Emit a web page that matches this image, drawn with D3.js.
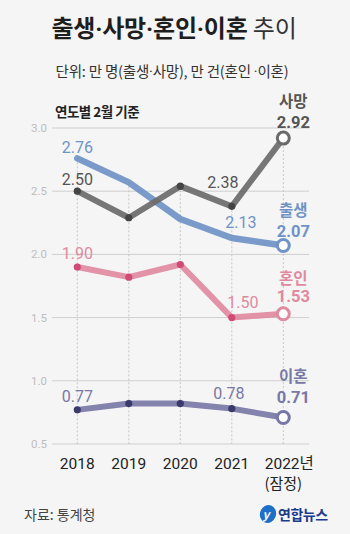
<!DOCTYPE html>
<html><head><meta charset="utf-8">
<script src="https://cdn.jsdelivr.net/npm/d3@7"></script>
<style>
html,body{margin:0;padding:0;background:#f5f5f5;}
svg{display:block;font-family:"Noto Sans CJK KR","Noto Sans",sans-serif;}
.num{font-family:Roboto,"Noto Sans",sans-serif;}
</style></head><body>
<svg id="c" width="350" height="534"></svg>
<script>
const years = ["2018","2019","2020","2021","2022"];
const birth = [2.76, 2.57, 2.28, 2.13, 2.07];
const death = [2.50, 2.29, 2.54, 2.38, 2.92];
const marriage = [1.90, 1.82, 1.92, 1.50, 1.53];
const divorce = [0.77, 0.82, 0.82, 0.78, 0.71];
const yTicks = [0.5, 1.0, 1.5, 2.0, 2.5, 3.0];
const seriesNames = ["출생","사망","혼인","이혼"];

const svg = d3.select("#c");
svg.append("rect").attr("width",350).attr("height",534).attr("fill","#f5f5f5");

const x = d3.scalePoint().domain(years).range([77.3, 283.3]);
const y = d3.scaleLinear().domain([0.5, 3.0]).range([444, 128]);

// title with narrow middots
const addMixed = (textSel, str) => {
  str.split(/(·)/).forEach(p => {
    if(!p) return;
    const ts = textSel.append("tspan").text(p);
    if(p==="·") ts.attr("font-family","Roboto,'Noto Sans',sans-serif");
  });
};
const t = svg.append("text").attr("x",174).attr("y",37).attr("text-anchor","middle")
  .attr("font-size",24).attr("fill","#1e1e1e").attr("letter-spacing","-0.2");
const tb = t.append("tspan").attr("font-weight","bold");
addMixed(tb, "출생·사망·혼인·이혼");
t.append("tspan").attr("font-weight","normal").attr("fill","#333").text(" 추이");
const st = svg.append("text").attr("x",172).attr("y",77).attr("text-anchor","middle")
  .attr("font-size",14.5).attr("fill","#333").attr("letter-spacing","-0.2");
addMixed(st, "단위: 만 명(출생·사망), 만 건(혼인 ·이혼)");
svg.append("text").attr("x",55).attr("y",117).attr("font-size",13.5).attr("font-weight","bold")
  .attr("fill","#222").attr("letter-spacing","-0.5").text("연도별 2월 기준");

// grid
const gy = svg.append("g");
gy.selectAll("line").data(yTicks).join("line")
  .attr("x1",52).attr("x2",309).attr("y1",d=>y(d)).attr("y2",d=>y(d))
  .attr("stroke","#cfcfcf").attr("stroke-width",1);
gy.selectAll("text").data(yTicks).join("text").attr("class","num")
  .attr("x",47).attr("y",d=>y(d)+4).attr("text-anchor","end")
  .attr("font-size",11.5).attr("fill","#bdbdbd").text(d=>d.toFixed(1));

const all = [birth, death, marriage, divorce];
svg.append("g").selectAll("line").data(years).join("line")
  .attr("x1",d=>x(d)).attr("x2",d=>x(d))
  .attr("y1",(d,i)=>y(d3.max(all,s=>s[i]))).attr("y2",y(0.5))
  .attr("stroke","#bbb").attr("stroke-width",0.8).attr("stroke-dasharray","2,2");

// x labels
const xl = svg.append("g");
xl.selectAll("text").data(years).join("text")
  .attr("x",d=>x(d)+(d==="2022"?6:0)).attr("y",469).attr("text-anchor","middle")
  .attr("font-size",15.5).attr("fill","#222")
  .each(function(d){
    const s = d3.select(this);
    s.append("tspan").attr("class","num").text(d);
    if(d==="2022") s.append("tspan").text("년");
  });
xl.append("text").attr("x",x("2022")).attr("y",489).attr("text-anchor","middle")
  .attr("font-size",15).attr("fill","#222").text("(잠정)");

const line = d3.line().x((d,i)=>x(years[i])).y(d=>y(d));
const cfg = [
  {data:divorce, color:"#7878a6", dot:"#3a3a6c", w:6},
  {data:marriage, color:"#e08a9f", dot:"#d04c76", w:6},
  {data:birth, color:"#6f93c6", dot:null, w:6.5},
  {data:death, color:"#6a6a6a", dot:"#444", w:6},
];
cfg.forEach(c=>{
  svg.append("path").attr("d",line(c.data)).attr("fill","none")
    .attr("stroke",c.color).attr("stroke-width",c.w).attr("stroke-linecap","round")
    .attr("stroke-linejoin","round").attr("opacity",0.92);
  if(c.dot){
    svg.append("g").selectAll("circle").data(c.data.slice(0,4)).join("circle")
      .attr("cx",(d,i)=>x(years[i])).attr("cy",d=>y(d)).attr("r",3.6).attr("fill",c.dot);
  }
  svg.append("circle").attr("cx",x("2022")).attr("cy",y(c.data[4])).attr("r",6)
    .attr("fill","#fff").attr("stroke",c.color).attr("stroke-width",3);
});

// value labels
const lbl = (i, s, dx, dy, color) => svg.append("text").attr("class","num")
  .attr("x",x(years[i])+dx).attr("y",y(s[i])+dy)
  .attr("text-anchor","middle").attr("font-size",16).attr("fill",color)
  .text(s[i].toFixed(2));
lbl(0, birth, 0, -5, "#6f93c6");
lbl(3, birth, 9, -10, "#6f93c6");
lbl(0, death, 0, -6, "#555");
lbl(3, death, -9, -18, "#555");
lbl(0, marriage, 0, -8, "#e08a9f");
lbl(3, marriage, 11, -10, "#e08a9f");
lbl(0, divorce, 0, -8, "#7878a6");
lbl(3, divorce, -3, -10, "#7878a6");

// end labels
const endL = (s, name, color, nameY, valY) => {
  const g = svg.append("g").attr("font-weight","bold").attr("fill",color).attr("text-anchor","middle");
  g.append("text").attr("x",x("2022")+10).attr("y",y(s[4])+nameY).attr("font-size",15.5).text(name);
  g.append("text").attr("class","num").attr("x",x("2022")+10).attr("y",y(s[4])+valY).attr("font-size",16.5).text(s[4].toFixed(2));
};
endL(death, seriesNames[1], "#555", -31, -10);
endL(birth, seriesNames[0], "#6f93c6", -30, -9);
endL(marriage, seriesNames[2], "#e08a9f", -30, -12);
endL(divorce, seriesNames[3], "#7878a6", -35, -14);

// source
svg.append("text").attr("x",24).attr("y",520).attr("font-size",14).attr("fill","#444").text("자료: 통계청");
// logo
const lg = svg.append("g");
lg.append("ellipse").attr("cx",268).attr("cy",514).attr("rx",8).attr("ry",9).attr("fill","#1d6fc8")
  .attr("transform","rotate(20,268,514)");
lg.append("text").attr("x",266).attr("y",519).attr("font-size",12).attr("font-weight","bold")
  .attr("fill","#fff").attr("text-anchor","middle").attr("font-style","italic").text("y");
lg.append("text").attr("x",278).attr("y",520).attr("font-size",14).attr("font-weight","bold")
  .attr("fill","#1b3c8c").attr("letter-spacing","-0.5").text("연합뉴스");
</script>
</body></html>
